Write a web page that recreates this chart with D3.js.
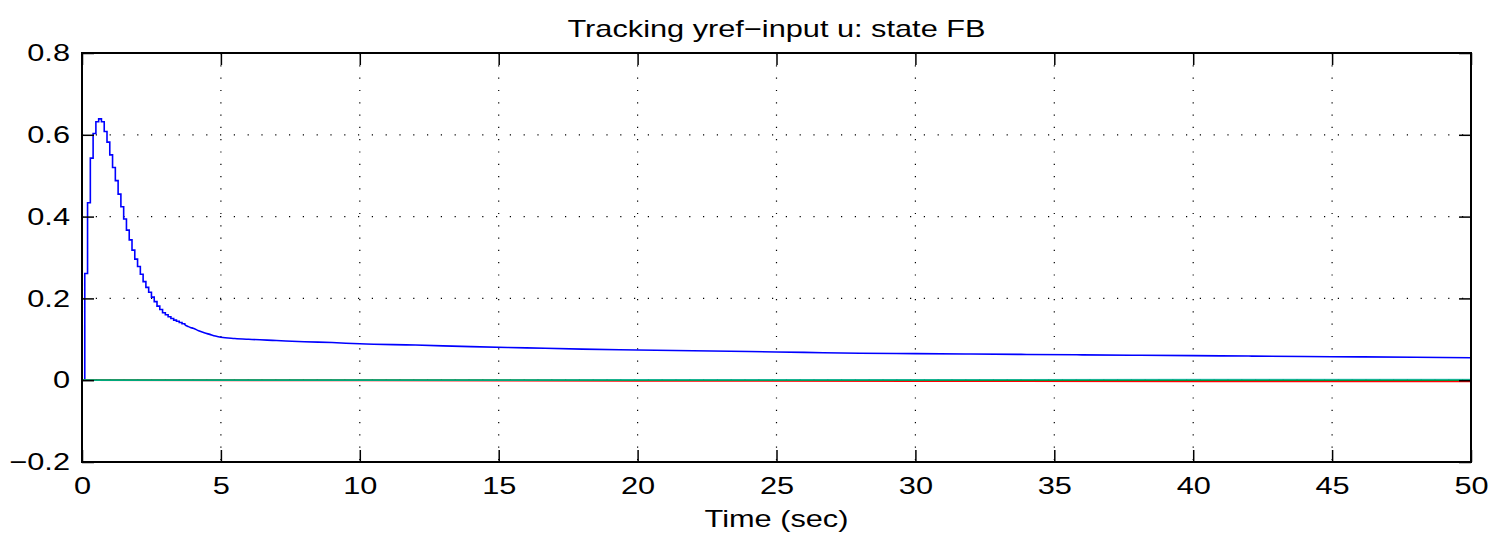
<!DOCTYPE html>
<html>
<head>
<meta charset="utf-8">
<script src="https://cdn.jsdelivr.net/npm/d3@7"></script>
<style>
  body { margin: 0; background: #fff; }
  svg text { font-family: "Liberation Sans", Arial, sans-serif; fill: #000; }
</style>
</head>
<body>
<div id="chart"></div>
<script>
// labels
const titleText = 'Tracking yref\u2212input u: state FB';
const xLabelText = 'Time (sec)';
const xTicks = [0, 5, 10, 15, 20, 25, 30, 35, 40, 45, 50];
const yTicks = [-0.2, 0, 0.2, 0.4, 0.6, 0.8];
const yTickLabels = ['\u22120.2', '0', '0.2', '0.4', '0.6', '0.8'];

// input 1 (blue), zero-order hold, 0.1 s samples through the transient
const u1Time = [
  0, 0.1, 0.2, 0.3, 0.4, 0.5, 0.6, 0.7, 0.8, 0.9,
  1.0, 1.1, 1.2, 1.3, 1.4, 1.5, 1.6, 1.7, 1.8, 1.9,
  2.0, 2.1, 2.2, 2.3, 2.4, 2.5, 2.6, 2.7, 2.8, 2.9,
  3.0, 3.1, 3.2, 3.3, 3.4, 3.5, 3.6, 3.7, 3.8, 3.9,
  4.0, 4.2, 4.4, 4.6, 4.8, 5.0, 5.5, 6, 7, 8, 9, 10,
  12, 14, 16, 18, 20, 22, 24, 26, 28, 30,
  32, 34, 36, 38, 40, 42, 44, 46, 48, 50
];
const u1Value = [
  0, 0.261, 0.434, 0.543, 0.603, 0.632, 0.639, 0.632, 0.608, 0.582,
  0.551, 0.520, 0.488, 0.455, 0.424, 0.394, 0.367, 0.343, 0.318, 0.296,
  0.278, 0.259, 0.241, 0.227, 0.215, 0.203, 0.192, 0.181, 0.173, 0.165,
  0.160, 0.155, 0.151, 0.147, 0.144, 0.141, 0.138, 0.135, 0.132, 0.129,
  0.127, 0.121, 0.116, 0.112, 0.108, 0.105, 0.102, 0.100, 0.097, 0.094, 0.092, 0.089,
  0.086, 0.082, 0.079, 0.076, 0.074, 0.072, 0.070, 0.068, 0.066, 0.065,
  0.064, 0.063, 0.062, 0.061, 0.060, 0.059, 0.058, 0.057, 0.056, 0.055
];
// past this time the hold steps are too small to see, so draw it smooth
const stepUntil = 3.6;

// the other inputs sit on zero and only drift a hair near the end
const uSmallTime = [0, 10, 20, 30, 40, 50];
const u2Value = [0, 0, 0, 0, 0, 0];                                 // green
const u3Value = [0, -0.0005, -0.0015, -0.0022, -0.0028, -0.0032];   // red
const u4Value = [0, 0.0002, 0.0006, 0.0010, 0.0014, 0.0016];        // cyan

// dimension stuff
const W = 1495;
const H = 535;
const marginTop = 53;
const marginBottom = 73;
const marginLeft = 82;
const marginRight = 24;
const width = W - marginLeft - marginRight;
const height = H - marginTop - marginBottom;
const fontSize = 24;
const stretch = 1.28; // the figure text is wider than it is tall

const scaleX = d3.scaleLinear().domain([0, 50]).range([0, width]);
const scaleY = d3.scaleLinear().domain([-0.2, 0.8]).range([height, 0]);

const $svg = d3.select('#chart').append('svg')
  .attr('width', W)
  .attr('height', H);

const $g = $svg.append('g')
  .attr('transform', `translate(${marginLeft}, ${marginTop})`);

// widen text glyphs like the original export
function widen(sel) {
  sel.each(function () {
    const len = this.getComputedTextLength();
    d3.select(this)
      .attr('textLength', len * stretch)
      .attr('lengthAdjust', 'spacingAndGlyphs');
  });
}

// dotted grid
const $grid = $g.append('g').attr('class', 'g-grid');
$grid.selectAll('.vgrid')
  .data(xTicks.slice(1, -1))
  .join('line')
  .attr('x1', d => scaleX(d)).attr('x2', d => scaleX(d))
  .attr('y1', 0).attr('y2', height)
  .attr('stroke', '#000')
  .attr('stroke-width', 1.2)
  .attr('stroke-dasharray', '1.2,11.1');
$grid.selectAll('.hgrid')
  .data(yTicks.slice(1, -1))
  .join('line')
  .attr('x1', 0).attr('x2', width)
  .attr('y1', d => scaleY(d)).attr('y2', d => scaleY(d))
  .attr('stroke', '#000')
  .attr('stroke-width', 1.2)
  .attr('stroke-dasharray', '1.2,12.6');

// lines
const stepLine = d3.line()
  .x(d => scaleX(d[0]))
  .y(d => scaleY(d[1]))
  .curve(d3.curveStepAfter);
const smoothLine = d3.line()
  .x(d => scaleX(d[0]))
  .y(d => scaleY(d[1]))
  .curve(d3.curveMonotoneX);
const flatLine = d3.line()
  .x(d => scaleX(d[0]))
  .y(d => scaleY(d[1]));

const u1 = d3.zip(u1Time, u1Value);
// stepped part runs one sample past stepUntil so both pieces meet
const u1Steps = u1.filter(d => d[0] <= stepUntil + 0.11);
const u1Tail = u1.filter(d => d[0] >= stepUntil + 0.09);

const series = [
  { t: uSmallTime, v: u3Value, color: '#ff0000', op: 1 },
  { t: uSmallTime, v: u2Value, color: '#008000', op: 1 },
  { t: uSmallTime, v: u4Value, color: '#00bfbf', op: 0.65 }
];

const $vis = $g.append('g').attr('class', 'g-vis');
$vis.append('path')
  .attr('d', stepLine(u1Steps))
  .attr('fill', 'none')
  .attr('stroke', '#0000ff')
  .attr('stroke-width', 1.6);
$vis.append('path')
  .attr('d', smoothLine(u1Tail))
  .attr('fill', 'none')
  .attr('stroke', '#0000ff')
  .attr('stroke-width', 1.6);
$vis.selectAll('.small')
  .data(series)
  .join('path')
  .attr('d', s => flatLine(d3.zip(s.t, s.v)))
  .attr('fill', 'none')
  .attr('stroke', s => s.color)
  .attr('stroke-opacity', s => s.op)
  .attr('stroke-width', 1.7);

// axes, ticks point inward on all four sides
const tickLen = 12;
const $xBottom = $g.append('g')
  .attr('transform', `translate(0, ${height})`)
  .call(d3.axisBottom(scaleX).tickValues(xTicks).tickSize(-tickLen).tickSizeOuter(0).tickPadding(15).tickFormat(d3.format('d')));
const $xTop = $g.append('g')
  .call(d3.axisTop(scaleX).tickValues(xTicks).tickSize(-tickLen).tickSizeOuter(0).tickFormat(''));
const $yLeft = $g.append('g')
  .call(d3.axisLeft(scaleY).tickValues(yTicks).tickSize(-tickLen).tickSizeOuter(0).tickPadding(12)
    .tickFormat((d, i) => yTickLabels[i]));
const $yRight = $g.append('g')
  .attr('transform', `translate(${width}, 0)`)
  .call(d3.axisRight(scaleY).tickValues(yTicks).tickSize(-tickLen).tickSizeOuter(0).tickFormat(''));

[$xBottom, $xTop, $yLeft, $yRight].forEach($a => {
  $a.select('.domain').remove();
  $a.selectAll('.tick line').attr('stroke', '#000').attr('stroke-width', 1.5);
  $a.selectAll('.tick text')
    .attr('font-size', fontSize)
    .attr('font-family', '"Liberation Sans", Arial, sans-serif')
    .call(widen);
});

// frame
$g.append('rect')
  .attr('width', width)
  .attr('height', height)
  .attr('fill', 'none')
  .attr('stroke', '#000')
  .attr('stroke-width', 2);

// title and x label
$g.append('text')
  .attr('x', width / 2)
  .attr('y', -16)
  .attr('text-anchor', 'middle')
  .attr('font-size', fontSize)
  .text(titleText)
  .call(widen);

$g.append('text')
  .attr('x', width / 2)
  .attr('y', height + 65)
  .attr('text-anchor', 'middle')
  .attr('font-size', fontSize)
  .text(xLabelText)
  .call(widen);
</script>
</body>
</html>
